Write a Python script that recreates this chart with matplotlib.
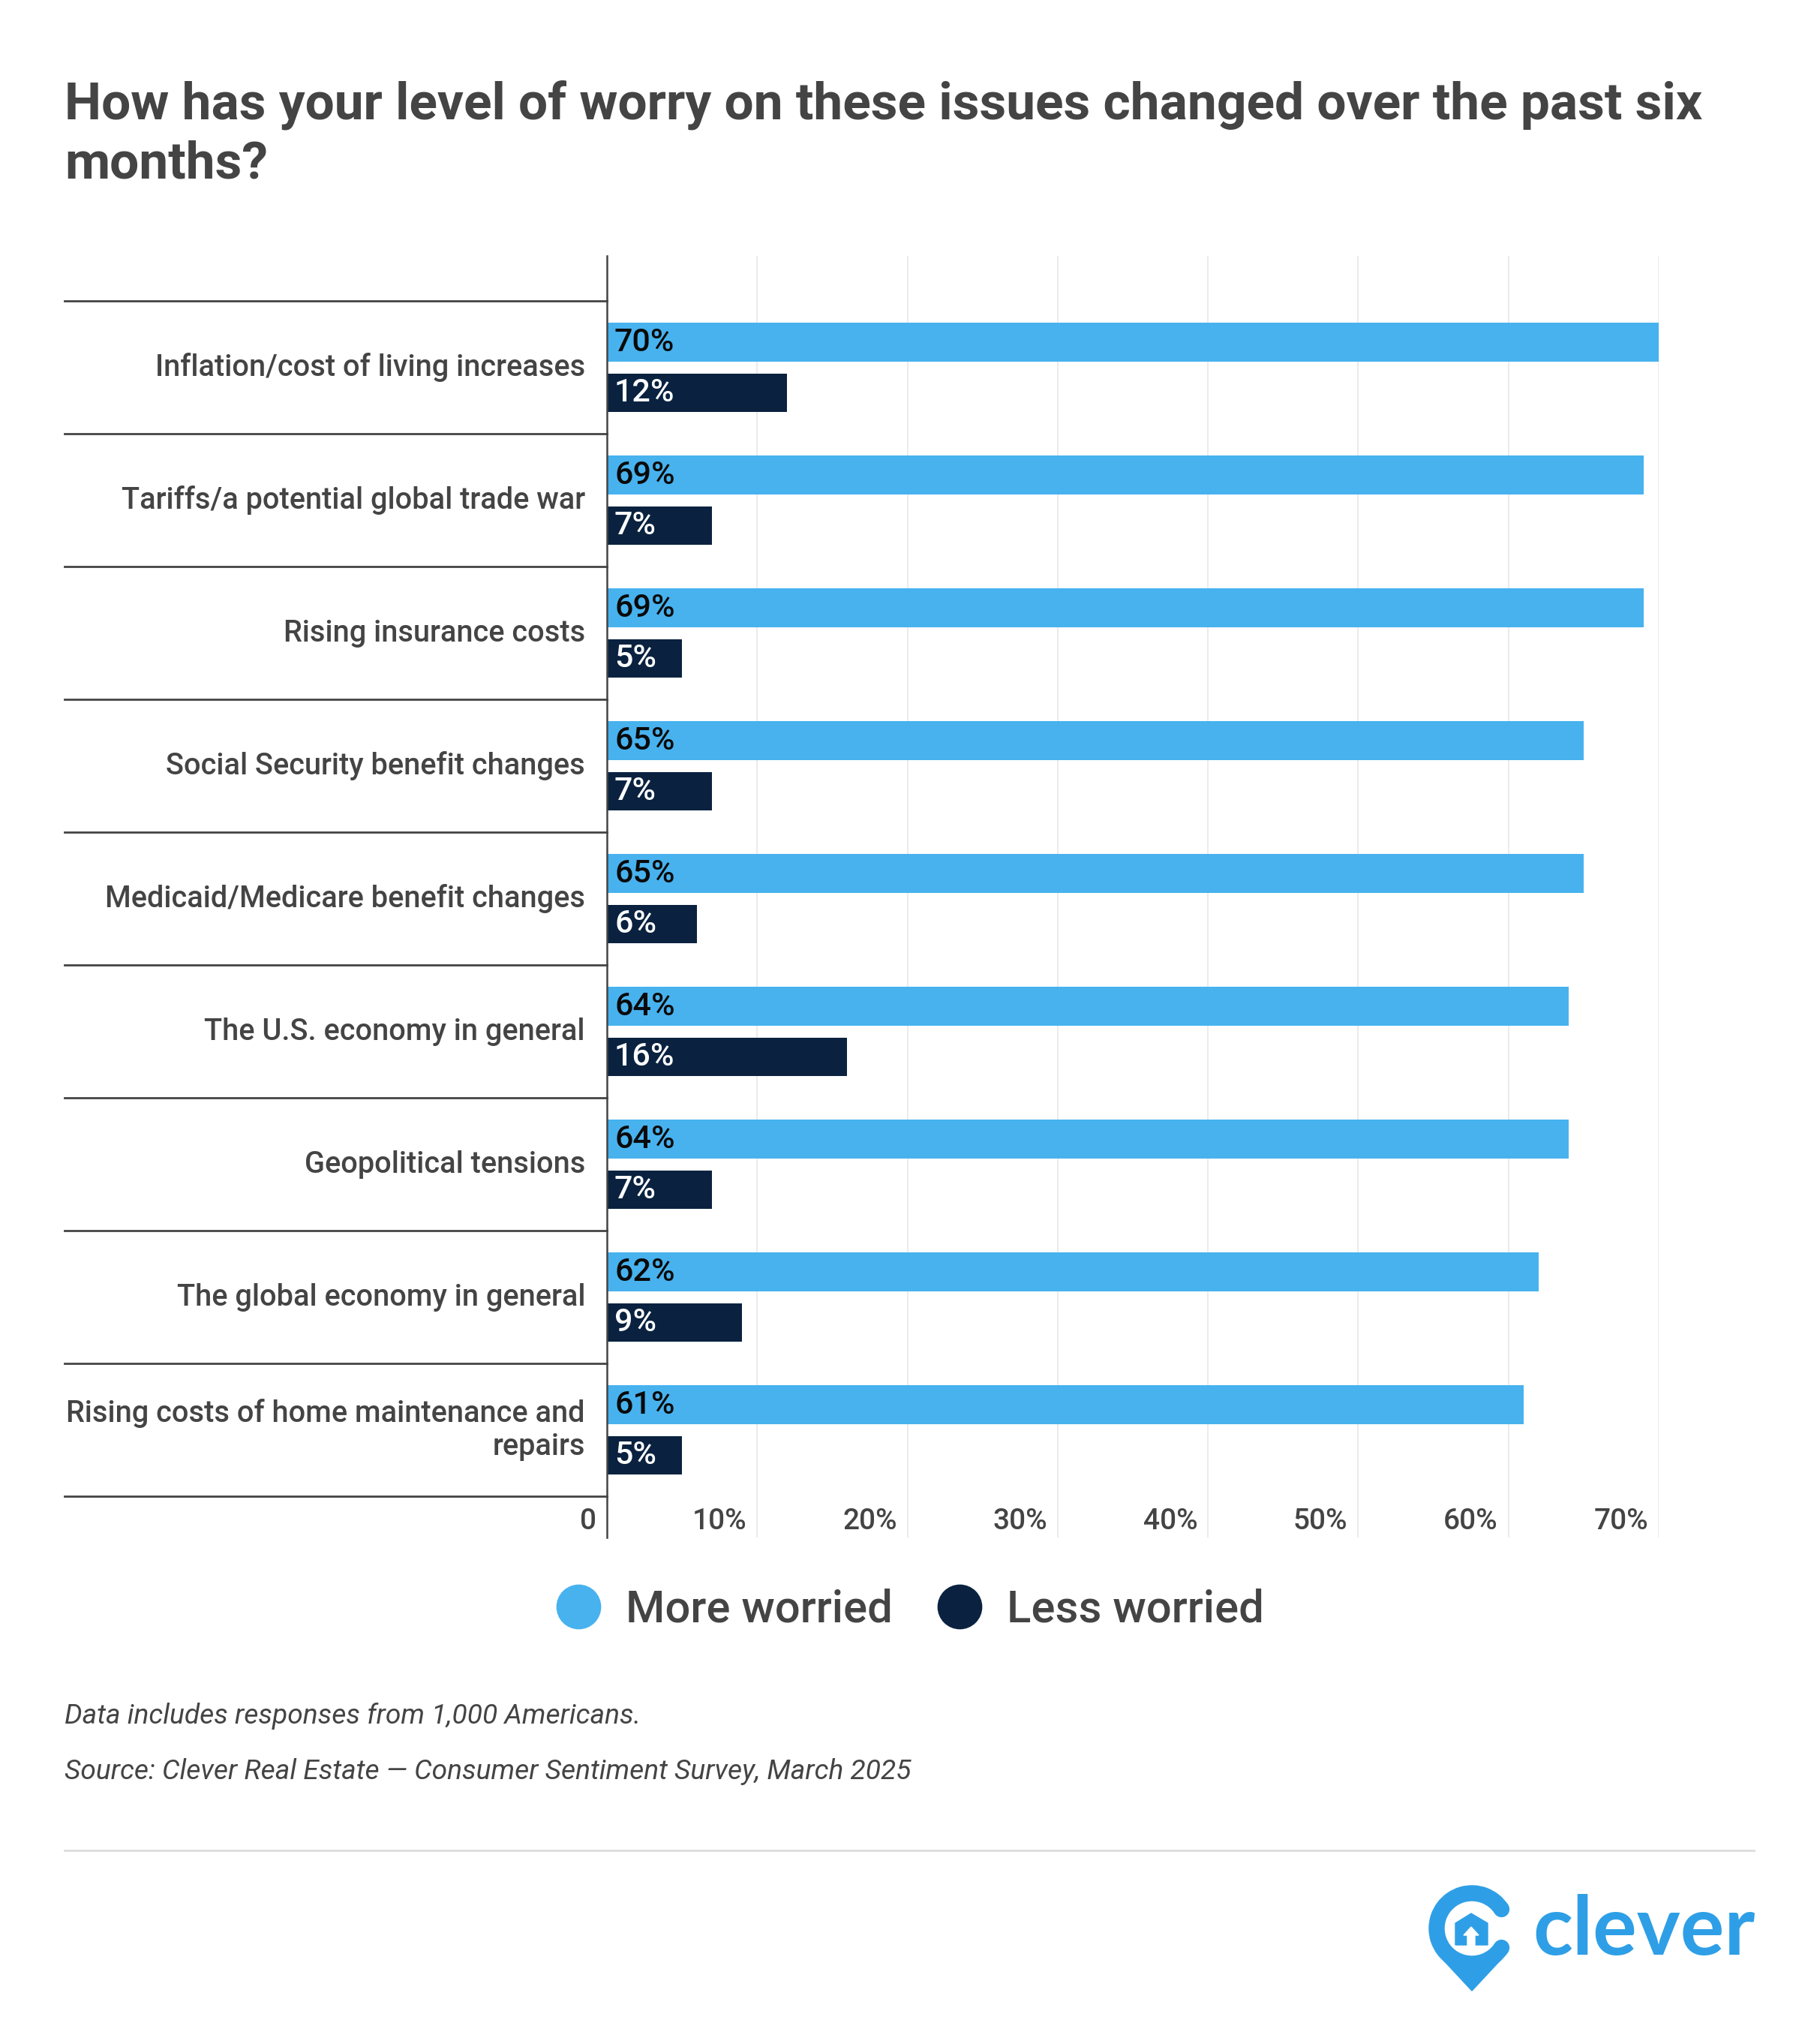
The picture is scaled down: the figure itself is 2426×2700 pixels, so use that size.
import numpy as np
import matplotlib
matplotlib.use("Agg")
import matplotlib.pyplot as plt
from matplotlib.lines import Line2D
from matplotlib.patches import Wedge, Polygon, Circle

# data
categories = [
    "Inflation/cost of living increases",
    "Tariffs/a potential global trade war",
    "Rising insurance costs",
    "Social Security benefit changes",
    "Medicaid/Medicare benefit changes",
    "The U.S. economy in general",
    "Geopolitical tensions",
    "The global economy in general",
    "Rising costs of home maintenance and\nrepairs",
]
more_worried = [70, 69, 69, 65, 65, 64, 64, 62, 61]
less_worried = [12, 7, 5, 7, 6, 16, 7, 9, 5]
tick_values = [0, 10, 20, 30, 40, 50, 60, 70]
tick_labels = ["0", "10%", "20%", "30%", "40%", "50%", "60%", "70%"]
series_names = ["More worried", "Less worried"]

title = "How has your level of worry on these issues changed over the past six\nmonths?"
note = "Data includes responses from 1,000 Americans."
source = "Source: Clever Real Estate \u2014 Consumer Sentiment Survey, March 2025"

blue = "#47B2EE"
navy = "#0A2240"
gray = "#444444"
logo_blue = "#2E9FE6"

plt.rcParams['font.family'] = ['Roboto', 'DejaVu Sans']

W, H = 2426, 2700
fig = plt.figure(figsize=(W / 100, H / 100), dpi=100)
fig.patch.set_facecolor("white")

def fx(px):
    return px / W

def fy(py):
    return 1 - py / H

# main axes
ax = fig.add_axes([fx(809), fy(2049), fx(2211) - fx(809), fy(341) - fy(2049)])
y = np.arange(len(categories))
bar_h = 0.29
off = 0.19
ax.barh(y - off, more_worried, height=bar_h, color=blue, zorder=2)
ax.barh(y + off, less_worried, height=bar_h, color=navy, zorder=2)
ax.set_xlim(0, 70)
ax.set_ylim(8.81, -0.84)

ax.set_xticks(tick_values)
ax.set_yticks([])
ax.grid(axis="x", color="#e6e6e6", lw=1.1, zorder=0)
ax.tick_params(length=0, labelbottom=False, labelleft=False)
for s in ["top", "right", "bottom"]:
    ax.spines[s].set_visible(False)
ax.spines["left"].set_color(gray)
ax.spines["left"].set_linewidth(1.8)
ax.spines["left"].set_zorder(3)

# group separators running left of the axis
for b in np.arange(len(categories) + 1) - 0.5:
    ax.axhline(b, xmin=(86 - 809) / 1402, xmax=0, color=gray, lw=2, clip_on=False)

# category labels
for i, cat in enumerate(categories):
    ax.annotate(cat, xy=(0, i), xytext=(-29, 0), textcoords="offset pixels",
                ha="right", va="center", fontsize=28.6, fontweight="medium",
                color=gray, annotation_clip=False)

# value labels inside the bars
for i in range(len(categories)):
    ax.annotate(f"{more_worried[i]}%", xy=(0, i - off), xytext=(10, 0),
                textcoords="offset pixels", ha="left", va="center",
                fontsize=31, fontweight="medium", color="#0a0a0a")
    ax.annotate(f"{less_worried[i]}%", xy=(0, i + off), xytext=(10, 0),
                textcoords="offset pixels", ha="left", va="center",
                fontsize=31, fontweight="medium", color="white")

# x tick labels sit inside the gridline area
for v, lbl in zip(tick_values, tick_labels):
    ax.annotate(lbl, xy=(v, 8.686), xytext=(-14, 0), textcoords="offset pixels",
                ha="right", va="center", fontsize=28, fontweight="medium",
                color=gray, annotation_clip=False)

# legend
handles = [Line2D([], [], marker="o", linestyle="none", markersize=42,
                  markerfacecolor=c, markeredgecolor=c) for c in (blue, navy)]
fig.legend(handles, series_names, loc="center", bbox_to_anchor=(0.5, fy(2145)),
           ncol=2, frameon=False, prop={"size": 43, "weight": "medium"},
           handlelength=1.0, handletextpad=0.55, columnspacing=1.0,
           labelcolor=gray)

# title and footer
fig.text(fx(86), fy(179), title, fontsize=50, fontweight="bold", color=gray,
         ha="left", va="center", linespacing=1.25)
fig.text(fx(86), fy(2287), note, fontsize=26.7, style="italic", color=gray,
         ha="left", va="center")
fig.text(fx(86), fy(2361), source, fontsize=26.7, style="italic", color=gray,
         ha="left", va="center")
fig.add_artist(Line2D([fx(86), fx(2338)], [fy(2466), fy(2466)],
                      color="#dddddd", lw=2))

# logo
lax = fig.add_axes([fx(1880), fy(2680), fx(2360) - fx(1880), fy(2490) - fy(2680)])
lax.set_xlim(1880, 2360)
lax.set_ylim(2680, 2490)
lax.axis("off")
cx, cy, r_out, ring = 1962, 2570, 57, 20
lax.add_patch(Wedge((cx, cy), r_out, 33, 327, width=ring, color=logo_blue))
r_mid = r_out - ring / 2
for ang in (33, -33):
    a = np.radians(ang)
    lax.add_patch(Circle((cx + r_mid * np.cos(a), cy + r_mid * np.sin(a)),
                         ring / 2, color=logo_blue))
lax.add_patch(Polygon([(cx - 41, cy + 39), (cx + 41, cy + 39), (cx, cy + 83)],
                      closed=True, color=logo_blue))
lax.add_patch(Polygon([(1940, 2592), (1940, 2563), (1961, 2550), (1983, 2563), (1983, 2592)],
                      closed=True, color=logo_blue))
lax.add_patch(Polygon([(1956, 2593), (1956, 2579), (1951, 2579), (1961, 2568),
                       (1971, 2579), (1966, 2579), (1966, 2593)],
                      closed=True, color="white"))
lax.text(2043, 2605, "clever", fontfamily=["Lato", "DejaVu Sans"], fontweight="bold",
         fontsize=79, color=logo_blue, ha="left", va="baseline")

fig.savefig("out.png", dpi=100, facecolor="white")
